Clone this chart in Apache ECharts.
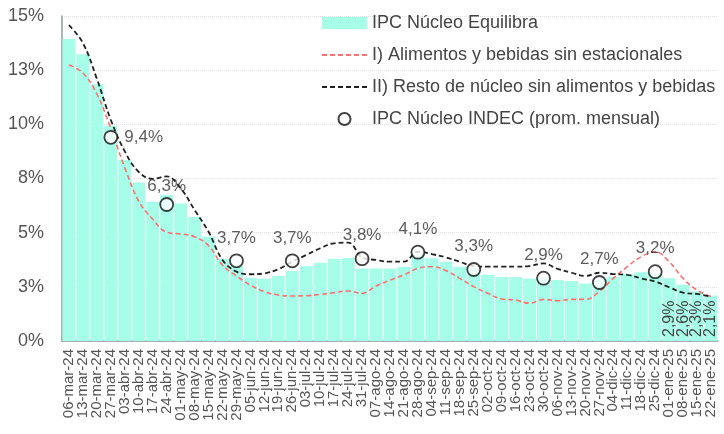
<!DOCTYPE html>
<html>
<head>
<meta charset="utf-8">
<script src="https://cdn.jsdelivr.net/npm/echarts@6/dist/echarts.min.js"></script>
<style>
  html, body { margin: 0; padding: 0; background: #fff; }
  #chart { width: 724px; height: 434px; }
</style>
</head>
<body>
<div id="chart"></div>
<script>
// semanas
var categories = [
  '06-mar-24', '13-mar-24', '20-mar-24', '27-mar-24', '03-abr-24', '10-abr-24', '17-abr-24', '24-abr-24',
  '01-may-24', '08-may-24', '15-may-24', '22-may-24', '29-may-24', '05-jun-24', '12-jun-24', '19-jun-24',
  '26-jun-24', '03-jul-24', '10-jul-24', '17-jul-24', '24-jul-24', '31-jul-24', '07-ago-24', '14-ago-24',
  '21-ago-24', '28-ago-24', '04-sep-24', '11-sep-24', '18-sep-24', '25-sep-24', '02-oct-24', '09-oct-24',
  '16-oct-24', '23-oct-24', '30-oct-24', '06-nov-24', '13-nov-24', '20-nov-24', '27-nov-24', '04-dic-24',
  '11-dic-24', '18-dic-24', '25-dic-24', '01-ene-25', '08-ene-25', '15-ene-25', '22-ene-25'
];

var equilibra = [
  13.94, 13.23, 11.85, 9.94, 8.35, 7.32, 6.43, 6.74, 6.35, 5.72, 4.82, 3.78,
  3.46, 2.92, 2.88, 3.0, 3.23, 3.45, 3.61, 3.78, 3.83, 3.35, 3.35, 3.35,
  3.43, 3.97, 3.82, 3.66, 3.43, 3.35, 3.06, 2.95, 2.95, 2.88, 2.9, 2.81,
  2.77, 2.65, 2.85, 2.97, 3.09, 3.17, 3.1, 2.9, 2.6, 2.3, 2.1
];

var alimentos = [
  12.74, 12.37, 11.4, 9.8, 8.0, 6.45, 5.62, 5.02, 4.94, 4.81, 4.4, 3.5,
  3.0, 2.58, 2.28, 2.12, 2.08, 2.09, 2.15, 2.23, 2.31, 2.2, 2.54, 2.81,
  3.05, 3.35, 3.43, 3.25, 2.89, 2.51, 2.2, 1.94, 1.89, 1.74, 1.92, 1.86,
  1.92, 1.92, 2.28, 2.89, 3.43, 3.89, 4.12, 3.66, 2.89, 2.35, 2.05
];

var resto = [
  14.58, 13.75, 12.1, 10.2, 8.75, 7.8, 7.48, 7.6, 7.05, 6.05, 5.04, 3.74,
  3.2, 3.08, 3.12, 3.31, 3.66, 3.97, 4.28, 4.51, 4.54, 3.86, 3.74, 3.66,
  3.66, 4.12, 4.01, 3.86, 3.66, 3.46, 3.43, 3.43, 3.43, 3.46, 3.58, 3.33,
  3.15, 3.0, 3.15, 3.09, 3.05, 2.89, 2.74, 2.48, 2.23, 2.17, 2.05
];

// IPC Núcleo INDEC, promedio mensual (ultima semana del mes)
var indecWeek = ['27-mar-24', '24-abr-24', '29-may-24', '26-jun-24', '31-jul-24', '28-ago-24', '25-sep-24', '30-oct-24', '27-nov-24', '25-dic-24'];
var indecVals = [9.4, 6.3, 3.7, 3.7, 3.8, 4.1, 3.3, 2.9, 2.7, 3.2];

var yTicks = [0, 2.5, 5, 7.5, 10, 12.5, 15];

function pct(v) {
  return v.toFixed(1).replace('.', ',') + '%';
}

var chartDom = document.getElementById('chart');
var myChart = echarts.init(chartDom);
var font = 'Liberation Sans';

var barData = equilibra.map(function (v, i) {
  return i >= equilibra.length - 4 ? { value: v, label: { show: true } } : v;
});

var indecData = indecWeek.map(function (c, i) {
  var item = { value: [c, indecVals[i]] };
  if (i === 0) item.label = { position: 'right', distance: 6 };
  if (i === 1) item.label = { distance: 2 };
  return item;
});

var option = {
  animation: false,
  textStyle: { fontFamily: font },
  grid: { left: 62, right: 6, top: 16, bottom: 93 },
  legend: {
    orient: 'vertical',
    left: 316,
    top: 8,
    itemWidth: 45,
    itemHeight: 12,
    itemGap: 12,
    textStyle: { fontSize: 18, color: '#444', lineHeight: 20, fontFamily: font },
    data: [
      { name: 'IPC Núcleo Equilibra', icon: 'rect' },
      { name: 'I) Alimentos y bebidas sin estacionales', itemStyle: { opacity: 0 } },
      { name: 'II) Resto de núcleo sin alimentos y bebidas', itemStyle: { opacity: 0 } },
      { name: 'IPC Núcleo INDEC (prom. mensual)', icon: 'circle' }
    ]
  },
  xAxis: {
    type: 'category',
    data: categories,
    axisTick: { show: false },
    axisLine: { lineStyle: { color: '#8c9c9c', width: 1.5 } },
    axisLabel: { interval: 0, rotate: 90, fontSize: 15, color: '#555', margin: 8 }
  },
  yAxis: {
    type: 'value',
    min: yTicks[0],
    max: yTicks[yTicks.length - 1],
    interval: 2.5,
    axisLine: { show: true, lineStyle: { color: '#8c9c9c', width: 1.5 } },
    axisTick: { show: false },
    axisLabel: {
      fontSize: 18, color: '#555', margin: 18,
      formatter: function (v) { return Math.round(v) + '%'; }
    },
    splitLine: { lineStyle: { color: '#e0e0e0', type: 'dotted' } }
  },
  series: [
    {
      name: 'IPC Núcleo Equilibra',
      type: 'bar',
      data: barData,
      barCategoryGap: '7%',
      itemStyle: { color: '#a6fde8' },
      label: {
        show: false,
        position: 'insideBottom',
        rotate: 90,
        align: 'left',
        verticalAlign: 'middle',
        distance: 4,
        fontSize: 16,
        color: '#444',
        formatter: function (p) { return pct(p.value); }
      }
    },
    {
      name: 'I) Alimentos y bebidas sin estacionales',
      type: 'line',
      data: alimentos,
      smooth: 0.4,
      symbol: 'none',
      z: 3,
      itemStyle: { color: '#ff6f6f' },
      lineStyle: { color: '#ff6f6f', width: 1.6, type: [5, 3] }
    },
    {
      name: 'II) Resto de núcleo sin alimentos y bebidas',
      type: 'line',
      data: resto,
      smooth: 0.4,
      symbol: 'none',
      z: 4,
      itemStyle: { color: '#222' },
      lineStyle: { color: '#222', width: 1.8, type: [5, 3] }
    },
    {
      name: 'IPC Núcleo INDEC (prom. mensual)',
      type: 'scatter',
      data: indecData,
      symbol: 'circle',
      symbolSize: 13,
      z: 5,
      itemStyle: { color: '#fff', borderColor: '#111', borderWidth: 1.8 },
      label: {
        show: true,
        position: 'top',
        distance: 7,
        fontSize: 17,
        color: '#333',
        formatter: function (p) { return pct(p.value[1]); }
      }
    }
  ]
};

option && myChart.setOption(option);
</script>
</body>
</html>
